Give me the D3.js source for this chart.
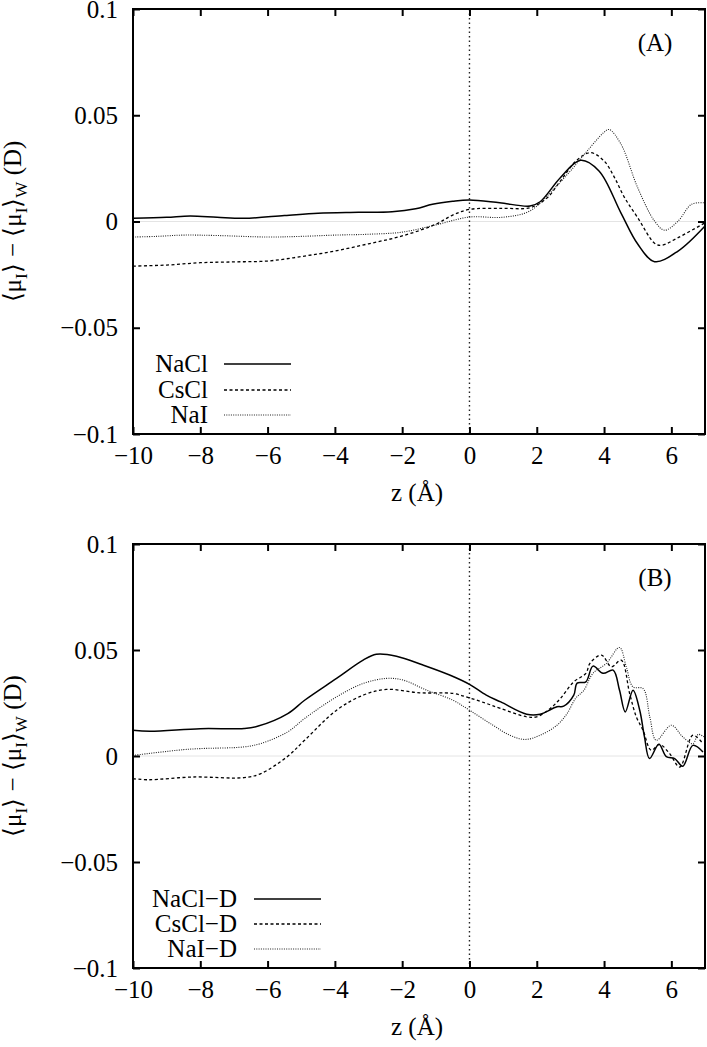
<!DOCTYPE html>
<html>
<head>
<meta charset="utf-8">
<script src="https://cdn.jsdelivr.net/npm/d3@7"></script>
<style>
  body { margin: 0; background: #fff; }
  svg text { font-family: "Liberation Serif", "Times New Roman", serif; fill: #000; }
</style>
</head>
<body>
<svg id="chart" width="707" height="1047"></svg>
<script>
// panel A: [z, value]
const nacl = [[-10,0.0015],[-9,0.002],[-8.3,0.0026],[-7.5,0.002],[-6.7,0.0015],[-5.5,0.0028],[-4.5,0.0039],[-3.3,0.0043],[-2.3,0.0046],[-1.6,0.006],[-1.1,0.0081],[-0.5,0.0095],[0,0.0101],[0.9,0.0088],[1.8,0.0073],[2.1,0.0093],[2.7,0.0206],[3.3,0.0288],[3.85,0.0238],[4.5,0.0041],[5.0,-0.0106],[5.5,-0.0189],[6.2,-0.0139],[7,-0.0021]];
const cscl = [[-10,-0.021],[-9,-0.0205],[-8,-0.0194],[-7,-0.019],[-6,-0.0186],[-5,-0.0165],[-4,-0.0139],[-3,-0.0105],[-2,-0.0068],[-1,-0.0013],[-0.5,0.003],[0,0.0057],[1,0.0062],[1.8,0.0065],[2.3,0.011],[2.7,0.019],[3.2,0.029],[3.6,0.0324],[4.0,0.0285],[4.3,0.021],[4.6,0.0115],[5,0.0018],[5.5,-0.0102],[5.7,-0.0112],[6.2,-0.0076],[7,-0.0006]];
const nai = [[-10,-0.0073],[-9.3,-0.007],[-8.5,-0.0064],[-7.5,-0.0066],[-6,-0.0073],[-5,-0.007],[-4,-0.0064],[-3,-0.006],[-2,-0.005],[-1,-0.0016],[0,0.0021],[1,0.002],[1.8,0.005],[2.5,0.0152],[3,0.0238],[3.5,0.0332],[4,0.042],[4.15,0.0433],[4.5,0.0365],[5,0.0159],[5.5,0.0002],[5.8,-0.0041],[6.2,0.0002],[6.6,0.0081],[7,0.0088]];

// panel B
const naclD = [[-10,0.0122],[-9.5,0.0117],[-8,0.0129],[-6.7,0.013],[-6.3,0.014],[-5.4,0.02],[-4.9,0.0263],[-3.95,0.0366],[-3.16,0.0452],[-2.77,0.048],[-2.17,0.0471],[-1.38,0.0429],[-0.59,0.0382],[0,0.0338],[0.5,0.0287],[0.93,0.0255],[1.7,0.0197],[2.1,0.0197],[2.6,0.0232],[2.8,0.0235],[3.1,0.0287],[3.2,0.0344],[3.46,0.035],[3.67,0.0424],[3.97,0.039],[4.27,0.0405],[4.46,0.031],[4.63,0.0208],[4.86,0.031],[5.06,0.0216],[5.2,0.0091],[5.35,-0.0012],[5.63,0.0055],[5.85,-0.0003],[6.1,-0.0012],[6.34,-0.0048],[6.64,0.005],[6.94,0.0019]];
const csclD = [[-10,-0.0107],[-9.55,-0.0112],[-8.2,-0.0099],[-6.7,-0.0102],[-6.2,-0.0083],[-5.4,-0.0001],[-4.9,0.0074],[-3.95,0.0216],[-3.16,0.0287],[-2.47,0.0314],[-1.48,0.0298],[-0.49,0.0295],[0,0.0274],[0.5,0.0248],[0.93,0.0224],[1.7,0.0185],[2.0,0.0185],[2.4,0.0224],[2.7,0.0271],[3.1,0.035],[3.46,0.039],[3.58,0.0437],[3.92,0.0476],[4.22,0.0421],[4.51,0.0452],[4.76,0.0295],[4.96,0.0184],[5.16,0.0121],[5.4,0.0027],[5.65,0.0055],[5.95,0.0011],[6.25,-0.0052],[6.64,0.0098],[6.94,0.0058]];
const naiD = [[-10,0.0003],[-8.5,0.003],[-8,0.0035],[-6.7,0.0043],[-6.2,0.0059],[-5.4,0.0114],[-4.9,0.0177],[-3.95,0.0279],[-3.16,0.0342],[-2.47,0.0366],[-1.97,0.0358],[-1.28,0.0311],[-0.49,0.0263],[0,0.0216],[0.7,0.0145],[1.2,0.0098],[1.65,0.0078],[2.1,0.0098],[2.6,0.0145],[2.9,0.02],[3.15,0.0271],[3.4,0.031],[3.67,0.039],[4.07,0.0437],[4.46,0.0512],[4.66,0.0421],[4.86,0.0326],[5.16,0.0318],[5.36,0.0184],[5.55,0.0074],[6.0,0.0145],[6.34,0.009],[6.64,0.0058],[6.8,0.0102],[6.97,0.009]];

const xTicks = [-10, -8, -6, -4, -2, 0, 2, 4, 6];
const yTicks = [-0.1, -0.05, 0, 0.05, 0.1];
const yTickLabels = ["\u22120.1", "\u22120.05", "0", "0.05", "0.1"];

const styles = [
  { dash: null, width: 1.5, color: "#000" },
  { dash: "3,2.5", width: 1.3, color: "#000" },
  { dash: "1,1.3", width: 1.1, color: "#222" },
];

const panels = [
  { top: 9, bottom: 434, tag: "(A)", series: [nacl, cscl, nai], names: ["NaCl", "CsCl", "NaI"],
    legX: 208, legLine: [224, 291], legY: [364, 390, 415] },
  { top: 544, bottom: 968, tag: "(B)", series: [naclD, csclD, naiD], names: ["NaCl\u2212D", "CsCl\u2212D", "NaI\u2212D"],
    legX: 237, legLine: [254, 321], legY: [899, 924, 949] },
];

const svg = d3.select("#chart");
const left = 133, right = 705;
const x = d3.scaleLinear().domain([-10, 7]).range([left, right]);

panels.forEach((p) => {
  const y = d3.scaleLinear().domain([-0.1, 0.1]).range([p.bottom, p.top]);
  const g = svg.append("g");

  // zero line
  g.append("line")
    .attr("x1", left).attr("x2", right)
    .attr("y1", y(0)).attr("y2", y(0))
    .attr("stroke", "#e4e4e4").attr("stroke-width", 1);

  // z = 0 dotted line
  g.append("line")
    .attr("x1", x(0)).attr("x2", x(0))
    .attr("y1", p.top).attr("y2", p.bottom)
    .attr("stroke", "#222").attr("stroke-width", 1.4)
    .attr("stroke-dasharray", "1.5,3");

  const line = d3.line()
    .x((d) => x(d[0]))
    .y((d) => y(d[1]))
    .curve(d3.curveCatmullRom.alpha(0.5));

  p.series.forEach((s, i) => {
    const st = styles[i];
    g.append("path")
      .datum(s)
      .attr("d", line)
      .attr("fill", "none")
      .attr("stroke", st.color)
      .attr("stroke-width", st.width)
      .attr("stroke-dasharray", st.dash);
  });

  // axes with inward ticks on all sides
  const tl = 7;
  g.append("g").attr("transform", `translate(0,${p.bottom})`)
    .call(d3.axisBottom(x).tickValues(xTicks).tickSize(-tl).tickPadding(12)
      .tickFormat((d) => (d < 0 ? "\u2212" + Math.abs(d) : d)));
  g.append("g").attr("transform", `translate(0,${p.top})`)
    .call(d3.axisTop(x).tickValues(xTicks).tickSize(-tl).tickFormat(""));
  g.append("g").attr("transform", `translate(${left},0)`)
    .call(d3.axisLeft(y).tickValues(yTicks).tickSize(-tl).tickPadding(15)
      .tickFormat((d, i) => yTickLabels[i]));
  g.append("g").attr("transform", `translate(${right},0)`)
    .call(d3.axisRight(y).tickValues(yTicks).tickSize(-tl).tickFormat(""));

  g.selectAll(".domain").remove();
  g.selectAll(".tick line").attr("stroke", "#000").attr("stroke-width", 2);
  g.selectAll(".tick text").attr("font-size", 25)
    .attr("font-family", "Liberation Serif, serif");

  g.append("rect")
    .attr("x", left).attr("y", p.top)
    .attr("width", right - left).attr("height", p.bottom - p.top)
    .attr("fill", "none").attr("stroke", "#000").attr("stroke-width", 2);

  // tag
  g.append("text").attr("x", 655).attr("y", p.top + 42)
    .attr("text-anchor", "middle").attr("font-size", 25).text(p.tag);

  // legend
  p.names.forEach((n, i) => {
    const st = styles[i];
    g.append("text").attr("x", p.legX).attr("y", p.legY[i] + 8)
      .attr("text-anchor", "end").attr("font-size", 25).text(n);
    g.append("line")
      .attr("x1", p.legLine[0]).attr("x2", p.legLine[1])
      .attr("y1", p.legY[i]).attr("y2", p.legY[i])
      .attr("stroke", st.color).attr("stroke-width", st.width)
      .attr("stroke-dasharray", st.dash);
  });

  // x title
  g.append("text").attr("x", (left + right) / 2 - 2).attr("y", p.bottom + 67)
    .attr("text-anchor", "middle").attr("font-size", 25).text("z (\u00C5)");

  // y title
  const cy = (p.top + p.bottom) / 2;
  const yt = g.append("text")
    .attr("transform", `translate(21,${cy}) rotate(-90)`)
    .attr("text-anchor", "middle").attr("font-size", 25);
  yt.append("tspan").text("\u27E8\u03BC");
  yt.append("tspan").attr("font-size", 17).attr("dy", 6).text("I");
  yt.append("tspan").attr("dy", -6).text("\u27E9 \u2212 \u27E8\u03BC");
  yt.append("tspan").attr("font-size", 17).attr("dy", 6).text("I");
  yt.append("tspan").attr("dy", -6).text("\u27E9");
  yt.append("tspan").attr("font-size", 17).attr("dy", 6).text("W");
  yt.append("tspan").attr("dy", -6).text(" (D)");
});
</script>
</body>
</html>
